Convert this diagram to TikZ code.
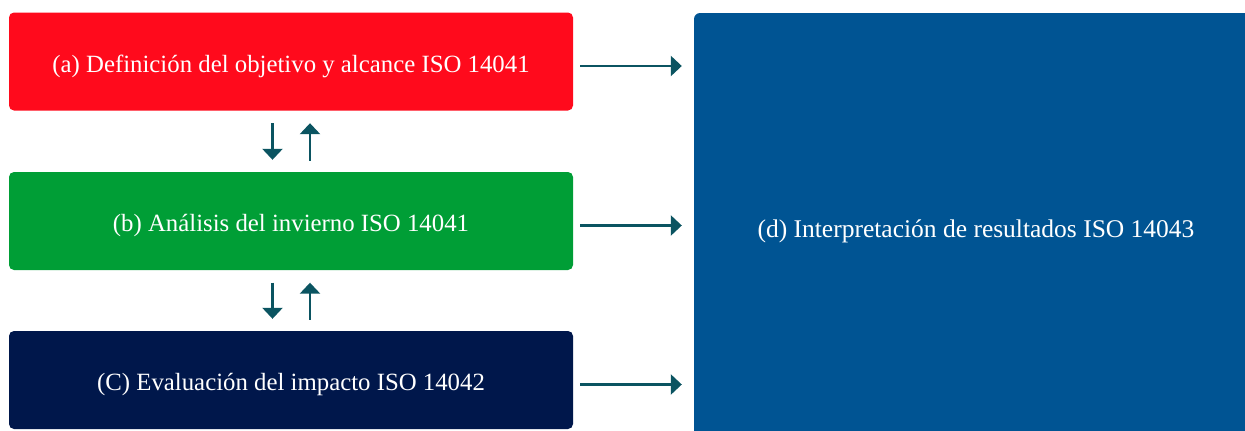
\documentclass[tikz,border=0pt]{standalone}
\usepackage{fontspec}
\setmainfont{Liberation Serif}
\usetikzlibrary{arrows.meta}
\definecolor{boxred}{HTML}{FF0A1C}
\definecolor{boxgreen}{HTML}{009E36}
\definecolor{boxnavy}{HTML}{00174B}
\definecolor{boxblue}{HTML}{005493}
\definecolor{arrowteal}{HTML}{0B5461}
\begin{document}
\begin{tikzpicture}[x=1pt,y=-1pt,
  stagebox/.style={fill=#1, rounded corners=5pt, minimum width=564pt, minimum height=98pt,
    inner sep=0pt, text=white, text height=23pt, text depth=2pt,
    font=\fontsize{24.8}{28}\selectfont},
  flow/.style={draw=arrowteal, line width=2.5pt,
    -{Triangle[length=11pt,width=20pt]}}]
  \useasboundingbox (0,0) rectangle (1245,431);
  \begin{scope}
    \clip (0,0) rectangle (1245,431);
    \node[stagebox=boxblue, minimum width=564pt, minimum height=428pt, rounded corners=6pt,
      font=\fontsize{25.5}{28}\selectfont]
      (d) at (976,227) {(d) Interpretación de resultados ISO 14043};
  \end{scope}
  \node[stagebox=boxred]   (a) at (291,61.5)  {(a) Definición del objetivo y alcance ISO 14041};
  \node[stagebox=boxgreen] (b) at (291,221)   {(b) Análisis del invierno ISO 14041};
  \node[stagebox=boxnavy]  (c) at (291,380)   {(C) Evaluación del impacto ISO 14042};

  % forward links into the interpretation stage
  \foreach \s in {a,b,c}
    \draw[flow, shorten <=7pt, shorten >=12pt] ([yshift=-4.5pt]\s.east) -- ([yshift=-4.5pt]d.west |- \s.east);

  % two-way links between consecutive stages
  \draw[flow, shorten <=12.5pt, shorten >=12pt] ([xshift=-18.5pt]a.south) -- ([xshift=-18.5pt]b.north);
  \draw[flow, shorten <=11pt, shorten >=12.5pt] ([xshift=19pt]b.north) -- ([xshift=19pt]a.south);
  \draw[flow, shorten <=12.5pt, shorten >=12pt] ([xshift=-18.5pt]b.south) -- ([xshift=-18.5pt]c.north);
  \draw[flow, shorten <=11pt, shorten >=12.5pt] ([xshift=19pt]c.north) -- ([xshift=19pt]b.south);
\end{tikzpicture}
\end{document}
